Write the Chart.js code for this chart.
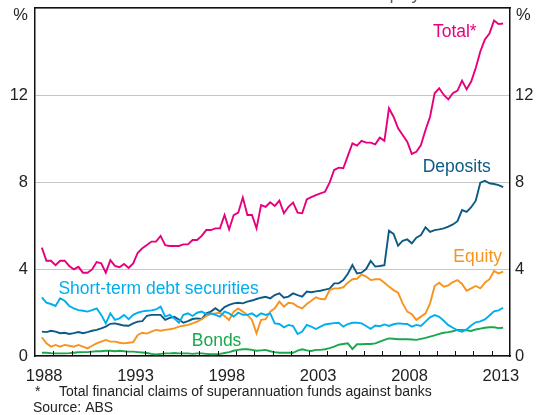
<!DOCTYPE html>
<html>
<head>
<meta charset="utf-8">
<title>Superannuation funds' claims on banks</title>
<script src="https://cdn.jsdelivr.net/npm/chart.js@4.4.0/dist/chart.umd.min.js"></script>
<style>
  html, body { margin: 0; padding: 0; background: #fff; }
</style>
</head>
<body>
<canvas id="claims" width="543" height="415"></canvas>
<script>
// quarterly observations, first one in 1988
var firstQuarter = 1988.375;
var yearLabels = [1988, 1993, 1998, 2003, 2008, 2013];
var yTicks = [0, 4, 8, 12, 16];

var total = [
  4.98, 4.38, 4.38, 4.18, 4.38, 4.38, 4.14, 3.98, 4.10, 3.83,
  3.83, 3.98, 4.32, 4.26, 3.83, 4.41, 4.14, 4.08, 4.23, 4.05,
  4.26, 4.75, 4.95, 5.10, 5.26, 5.26, 5.52, 5.10, 5.06, 5.06,
  5.06, 5.13, 5.13, 5.33, 5.33, 5.52, 5.79, 5.79, 5.87, 5.87,
  6.48, 5.82, 6.48, 6.59, 7.29, 6.48, 6.48, 5.87, 6.94, 6.86,
  7.07, 6.90, 7.14, 6.56, 6.86, 7.05, 6.59, 6.56, 7.20, 7.30,
  7.40, 7.48, 7.55, 7.97, 8.55, 8.66, 8.63, 9.20, 9.78, 9.67,
  9.89, 9.81, 9.81, 9.73, 10.04, 9.89, 11.39, 11.00, 10.47, 10.16,
  9.85, 9.29, 9.39, 9.70, 10.39, 11.00, 12.08, 12.31, 12.00, 11.80,
  12.08, 12.20, 12.66, 12.26, 12.62, 13.24, 14.00, 14.55, 14.83, 15.42,
  15.26, 15.29
];
var deposits = [
  1.12, 1.10, 1.16, 1.12, 1.05, 1.07, 1.01, 1.05, 1.10, 1.05,
  1.10, 1.16, 1.20, 1.27, 1.35, 1.48, 1.50, 1.45, 1.40, 1.39,
  1.50, 1.58, 1.60, 1.85, 1.89, 1.89, 1.89, 1.66, 1.75, 1.80,
  1.68, 1.53, 1.60, 1.70, 1.73, 1.70, 1.96, 2.04, 2.20, 2.05,
  2.25, 2.35, 2.42, 2.45, 2.42, 2.50, 2.55, 2.62, 2.68, 2.72,
  2.65, 2.80, 2.88, 2.68, 2.73, 2.88, 2.80, 2.73, 2.96, 2.93,
  2.97, 3.00, 3.05, 3.10, 3.34, 3.34, 3.49, 3.78, 4.18, 3.80,
  3.83, 4.00, 4.37, 4.11, 4.14, 4.18, 5.76, 5.61, 5.07, 5.30,
  5.36, 5.18, 5.44, 5.56, 5.92, 5.71, 5.79, 5.82, 5.87, 5.95,
  6.05, 6.20, 6.71, 6.63, 6.84, 7.14, 7.97, 8.06, 7.94, 7.91,
  7.86, 7.76
];
var equity = [
  0.86, 0.58, 0.43, 0.51, 0.43, 0.51, 0.47, 0.43, 0.51, 0.43,
  0.35, 0.47, 0.58, 0.66, 0.74, 0.66, 0.66, 0.61, 0.58, 0.61,
  0.64, 0.97, 1.07, 1.03, 1.12, 1.20, 1.16, 1.20, 1.23, 1.27,
  1.35, 1.39, 1.43, 1.50, 1.58, 1.69, 1.84, 1.93, 1.96, 1.99,
  1.84, 1.66, 2.04, 2.19, 2.04, 1.89, 1.66, 1.04, 1.66, 1.69,
  2.04, 2.19, 2.50, 2.27, 2.45, 2.42, 2.27, 2.19, 2.39, 2.54,
  2.70, 2.62, 2.61, 3.03, 3.11, 3.11, 3.16, 3.37, 3.53, 3.55,
  3.75, 3.65, 3.49, 3.53, 3.53, 3.37, 3.19, 3.03, 2.91, 2.42,
  2.04, 1.92, 1.66, 1.81, 1.96, 2.42, 3.22, 3.37, 3.19, 3.25,
  3.40, 3.49, 3.31, 3.00, 3.11, 3.22, 3.11, 3.37, 3.53, 3.91,
  3.80, 3.88
];
var shortTerm = [
  2.70, 2.45, 2.39, 2.30, 2.65, 2.54, 2.30, 2.19, 2.11, 2.08,
  2.04, 2.11, 2.19, 1.89, 1.50, 1.96, 1.66, 1.73, 1.89, 1.69,
  1.89, 1.99, 2.05, 2.08, 2.10, 2.14, 2.27, 1.81, 1.89, 1.73,
  1.53, 1.89, 1.96, 1.84, 1.99, 2.04, 1.93, 1.96, 1.89, 1.81,
  2.04, 1.96, 1.81, 1.99, 1.89, 1.89, 1.96, 1.81, 1.96, 1.89,
  1.96, 1.50, 1.47, 1.32, 1.43, 1.38, 1.01, 1.12, 1.43, 1.35,
  1.24, 1.35, 1.45, 1.48, 1.51, 1.53, 1.35, 1.47, 1.53, 1.53,
  1.50, 1.38, 1.25, 1.40, 1.37, 1.45, 1.38, 1.46, 1.50, 1.48,
  1.47, 1.35, 1.43, 1.38, 1.58, 1.78, 1.88, 1.80, 1.62, 1.42,
  1.30, 1.18, 1.12, 1.22, 1.40, 1.55, 1.59, 1.68, 1.86, 2.05,
  2.10, 2.22
];
var bonds = [
  0.15, 0.15, 0.13, 0.12, 0.12, 0.12, 0.13, 0.15, 0.17, 0.18,
  0.18, 0.20, 0.22, 0.22, 0.24, 0.24, 0.22, 0.24, 0.22, 0.20,
  0.20, 0.18, 0.16, 0.14, 0.10, 0.07, 0.10, 0.12, 0.12, 0.14,
  0.12, 0.12, 0.12, 0.10, 0.12, 0.12, 0.10, 0.08, 0.08, 0.10,
  0.14, 0.18, 0.24, 0.28, 0.31, 0.31, 0.28, 0.24, 0.26, 0.28,
  0.22, 0.18, 0.15, 0.15, 0.15, 0.15, 0.25, 0.31, 0.26, 0.23,
  0.28, 0.28, 0.31, 0.36, 0.43, 0.52, 0.55, 0.58, 0.32, 0.54,
  0.54, 0.55, 0.55, 0.58, 0.66, 0.74, 0.81, 0.79, 0.77, 0.77,
  0.77, 0.76, 0.74, 0.79, 0.83, 0.89, 0.95, 1.02, 1.07, 1.10,
  1.14, 1.20, 1.20, 1.18, 1.15, 1.22, 1.26, 1.30, 1.32, 1.32,
  1.28, 1.30
];

var colours = {
  total: '#e6007e',
  deposits: '#0d5a85',
  equity: '#f7941d',
  shortTerm: '#00aeef',
  bonds: '#19a84c',
  frame: '#111111',
  grid: '#c6c6c6',
  text: '#222222'
};

var FONT = "'Liberation Sans', Arial, sans-serif";
Chart.defaults.font.family = FONT;
Chart.defaults.color = colours.text;

var quarters = total.map(function (v, i) { return firstQuarter + i * 0.25; });

function points(values) {
  return values.map(function (v, i) { return { x: quarters[i], y: v }; });
}

function line(label, values, colour) {
  return {
    label: label,
    data: points(values),
    borderColor: colour,
    backgroundColor: colour,
    borderWidth: 1.9,
    pointRadius: 0,
    tension: 0,
    fill: false
  };
}

// text placed on the plot, in data units (left edge, baseline)
var seriesLabels = [
  { text: 'Total*', colour: colours.total, x: 2009.78, y: 14.68 },
  { text: 'Deposits', colour: colours.deposits, x: 2009.22, y: 8.45 },
  { text: 'Equity', colour: colours.equity, x: 2010.9, y: 4.34 },
  { text: 'Short-term debt securities', colour: colours.shortTerm, x: 1989.28, y: 2.85 },
  { text: 'Bonds', colour: colours.bonds, x: 1996.58, y: 0.47 }
];

var decor = {
  id: 'decor',
  afterDraw: function (chart) {
    var ctx = chart.ctx;
    var xs = chart.scales.x;
    var ys = chart.scales.y;
    var area = chart.chartArea;
    ctx.save();

    // small inward ticks for every year along the bottom axis
    ctx.strokeStyle = colours.frame;
    ctx.lineWidth = 1;
    for (var yr = 1989; yr <= 2013; yr++) {
      var px = Math.round(xs.getPixelForValue(yr)) + 0.5;
      ctx.beginPath();
      ctx.moveTo(px, area.bottom);
      ctx.lineTo(px, area.bottom - 5);
      ctx.stroke();
    }

    // unit markers at the top of both value axes
    ctx.fillStyle = colours.text;
    ctx.font = '16.5px ' + FONT;
    ctx.textBaseline = 'middle';
    var py = ys.getPixelForValue(16) + 7;
    ctx.textAlign = 'right';
    ctx.fillText('%', area.left - 7, py);
    ctx.textAlign = 'left';
    ctx.fillText('%', area.right + 6, py);

    // series names
    ctx.font = '17.5px ' + FONT;
    ctx.textBaseline = 'alphabetic';
    seriesLabels.forEach(function (l) {
      ctx.fillStyle = l.colour;
      ctx.fillText(l.text, xs.getPixelForValue(l.x), ys.getPixelForValue(l.y));
    });

    // chart title (mostly above the canvas) and notes
    ctx.fillStyle = '#555555';
    ctx.textAlign = 'center';
    ctx.font = '17px ' + FONT;
    ctx.fillText('Share of total bank liabilities and equity', (area.left + area.right) / 2, 0);

    ctx.fillStyle = colours.text;
    ctx.textAlign = 'left';
    ctx.font = '14px ' + FONT;
    ctx.fillText('*', 35, 396);
    ctx.fillText('Total financial claims of superannuation funds against banks', 59, 396);
    ctx.fillText('Source: ABS', 33, 412);
    ctx.restore();
  }
};

var yAxis = function (position) {
  return {
    type: 'linear',
    position: position,
    min: 0,
    max: 16,
    afterBuildTicks: function (scale) {
      scale.ticks = yTicks.map(function (v) { return { value: v }; });
    },
    ticks: {
      padding: position === 'left' ? 7 : 5,
      font: { size: 16.5 },
      color: colours.text,
      callback: function (v) { return v === 16 ? '' : String(v); }
    },
    grid: {
      display: position === 'left',
      drawOnChartArea: position === 'left',
      drawTicks: false,
      color: colours.grid,
      lineWidth: 1
    },
    border: { display: true, color: colours.frame, width: 1.5 },
    afterFit: function (scale) {
      scale.width = position === 'left' ? 35 : 33;
      scale.paddingTop = 0;
      scale.paddingBottom = 0;
    }
  };
};

new Chart(document.getElementById('claims'), {
  type: 'line',
  data: {
    datasets: [
      line('Short-term debt securities', shortTerm, colours.shortTerm),
      line('Bonds', bonds, colours.bonds),
      line('Equity', equity, colours.equity),
      line('Deposits', deposits, colours.deposits),
      line('Total*', total, colours.total)
    ]
  },
  options: {
    responsive: false,
    animation: false,
    devicePixelRatio: 1,
    layout: { padding: { top: 8, left: 0, right: 0, bottom: 0 } },
    plugins: {
      legend: { display: false },
      tooltip: { enabled: false },
      title: { display: false }
    },
    scales: {
      x: {
        type: 'linear',
        position: 'bottom',
        min: 1988,
        max: 2014,
        afterBuildTicks: function (scale) {
          scale.ticks = yearLabels.map(function (yr) { return { value: yr + 0.5 }; });
        },
        ticks: {
          autoSkip: false,
          maxRotation: 0,
          padding: 11,
          font: { size: 16.5 },
          color: colours.text,
          callback: function (v) { return String(Math.floor(v)); }
        },
        grid: { display: false, drawTicks: false },
        border: { display: true, color: colours.frame, width: 1.5 },
        afterFit: function (scale) {
          scale.height = 59;
          scale.paddingLeft = 0;
          scale.paddingRight = 0;
        }
      },
      xTop: {
        type: 'linear',
        position: 'top',
        min: 1988,
        max: 2014,
        ticks: { display: false },
        grid: { display: false, drawTicks: false },
        border: { display: true, color: colours.frame, width: 1.5 },
        afterFit: function (scale) {
          scale.height = 0;
          scale.paddingLeft = 0;
          scale.paddingRight = 0;
        }
      },
      y: yAxis('left'),
      y2: yAxis('right')
    }
  },
  plugins: [decor]
});
</script>
</body>
</html>
